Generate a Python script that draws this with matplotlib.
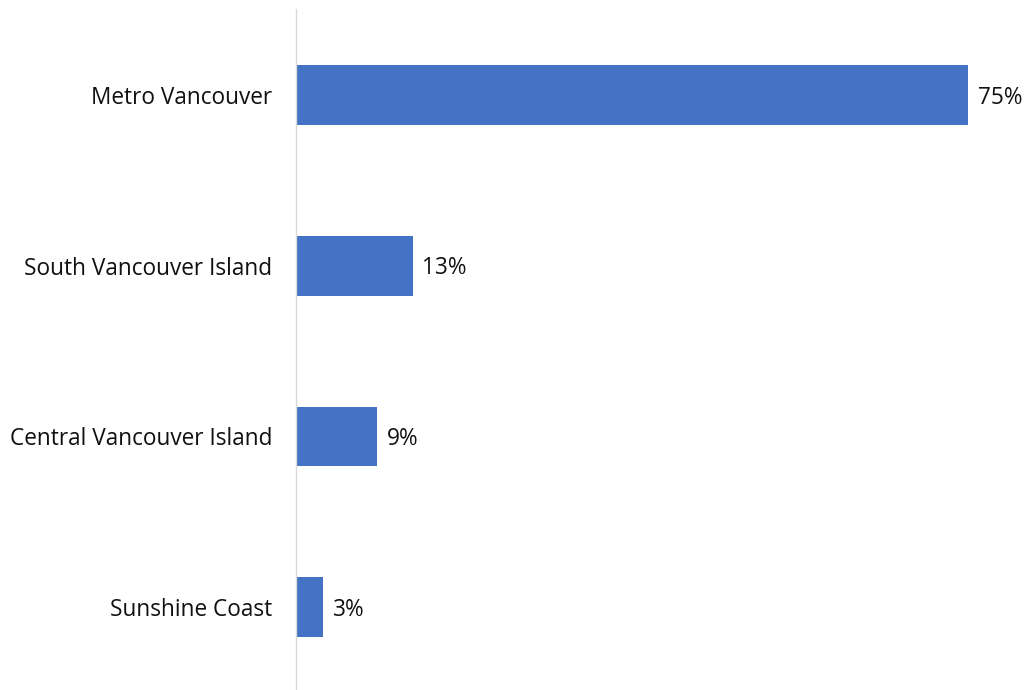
import matplotlib.pyplot as plt

plt.rcParams['font.family'] = ['Open Sans', 'DejaVu Sans']

regions = ['Metro Vancouver', 'South Vancouver Island', 'Central Vancouver Island', 'Sunshine Coast']
shares = [75, 13, 9, 3]

fig = plt.figure(figsize=(10.26, 6.90), dpi=100)
ax = fig.add_axes([296/1026, 0, 720/1026, 681/690])

ax.barh(range(len(regions)), shares, height=0.35, color='#4472C4')

# percentage labels just right of each bar
for i, v in enumerate(shares):
    ax.annotate(f'{v}%', (v, i), xytext=(7, -2), textcoords='offset points',
                va='center', ha='left', fontsize=16.3, color='#111111')

ax.set_yticks(range(len(regions)))
ax.set_yticklabels(regions, fontsize=16.3, color='#111111')
ax.tick_params(axis='y', length=0, pad=17)
ax.set_xticks([])
ax.set_xlim(0, 80.3)
ax.set_ylim(3.485, -0.503)

for side in ['top', 'right', 'bottom']:
    ax.spines[side].set_visible(False)
ax.spines['left'].set_color('#d9d9d9')
ax.spines['left'].set_linewidth(1)

fig.savefig('out.png', dpi=100)
